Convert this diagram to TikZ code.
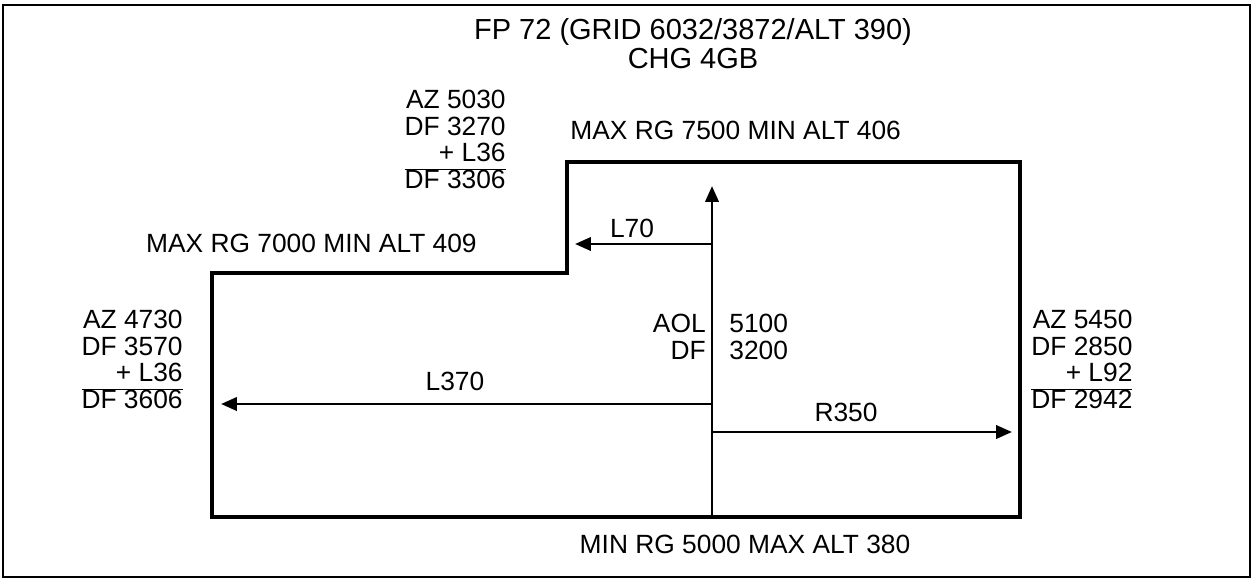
\documentclass[tikz,border=0pt]{standalone}
\usepackage{fontspec}
\setmainfont{Liberation Sans}
\usetikzlibrary{positioning,arrows.meta}

\begin{document}
\begin{tikzpicture}[
  x=0.02cm, y=-0.02cm,
  every node/.style={font=\fontsize{15}{15}\selectfont, inner sep=0pt},
  heading/.style={font=\fontsize{16.5}{16}\selectfont},
  outline/.style={line width=1.9pt, line join=miter},
  vec/.style={line width=1.6pt, -{Triangle[length=9pt, width=7.5pt]}},
  tally/.style={align=right}
]
\useasboundingbox (0,0) rectangle (1253,584);
\draw[line width=1.2pt] (3,5) rectangle (1250,577);

% sector outline
\draw[outline] (212,517) -- (212,273) -- (567,273) -- (567,162) -- (1020,162) -- (1020,517) -- cycle;

\coordinate (base) at (712,517);
\coordinate (top) at (712,186);
\coordinate (lft) at (712,404);
\coordinate (rgt) at (712,432);
\coordinate (mid) at (712,244);
\coordinate (lftend) at (221,404);
\coordinate (rgtend) at (1012,432);
\coordinate (midend) at (575,244);

\draw[vec] (base) -- (top);
\draw[vec] (mid) -- (midend);
\draw[vec] (lft) -- (lftend);
\draw[vec] (rgt) -- (rgtend);

% titles
\node (fp) [heading] at (693,32) {FP 72 (GRID 6032/3872/ALT 390)};
\node (chg) [heading] at (693,59) {CHG 4GB};

\node (maxA) [anchor=west] at (570,130) {MAX RG 7500 MIN ALT 406};
\node (maxB) [anchor=east] at (477,243) {MAX RG 7000 MIN ALT 409};
\node (minR) at (745,544) {MIN RG 5000 MAX ALT 380};

\node (l70) at (632,228) {L70};
\node (l370) at (455,381) {L370};
\node (r350) at (846,412) {R350};

\node (aol) [anchor=east] at (706,323) {AOL};
\node (df) [anchor=east] at (706,350) {DF};
\node (aolv) [anchor=west] at (729,323) {5100};
\node (dfv) [anchor=west] at (729,350) {3200};

% side tallies
\node (tallyA) [tally, anchor=north east] at (506,90)
  {\begin{tabular}{@{}r@{}}AZ 5030\\DF 3270\\+ L36\\\hline DF 3306\end{tabular}};
\node (tallyB) [tally, anchor=north east] at (183,310)
  {\begin{tabular}{@{}r@{}}AZ 4730\\DF 3570\\+ L36\\\hline DF 3606\end{tabular}};
\node (tallyC) [tally, anchor=north west] at (1031,310)
  {\begin{tabular}{@{}r@{}}AZ 5450\\DF 2850\\+ L92\\\hline DF 2942\end{tabular}};
\end{tikzpicture}
\end{document}
